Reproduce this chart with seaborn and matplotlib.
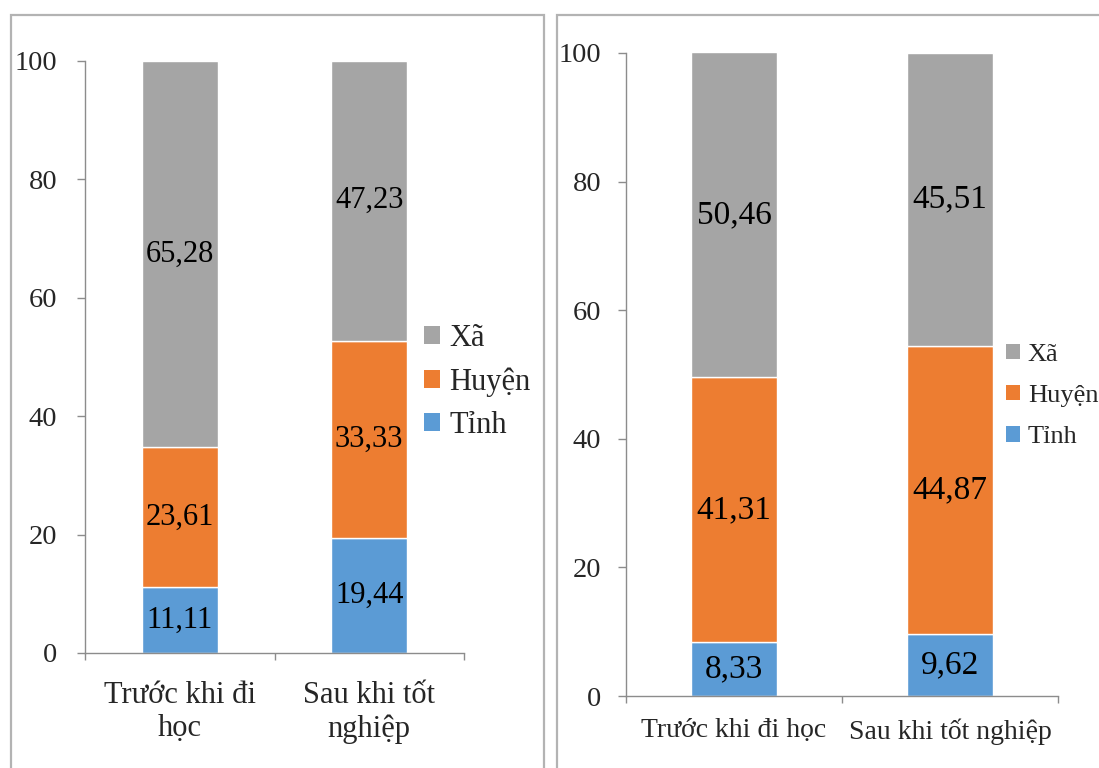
import matplotlib
matplotlib.use("Agg")
import matplotlib.pyplot as plt
from matplotlib.patches import Patch, Rectangle
import seaborn as sns
import numpy as np

# Categories and stacked shares (%) for the two panels
categories_left = ["Trước khi đi\nhọc", "Sau khi tốt\nnghiệp"]
categories_right = ["Trước khi đi học", "Sau khi tốt nghiệp"]
series_names = ["Tỉnh", "Huyện", "Xã"]

tinh_left = [11.11, 19.44]
huyen_left = [23.61, 33.33]
xa_left = [65.28, 47.23]

tinh_right = [8.33, 9.62]
huyen_right = [41.31, 44.87]
xa_right = [50.46, 45.51]

yticks = [0, 20, 40, 60, 80, 100]

colors = {"Tỉnh": "#5B9BD5", "Huyện": "#ED7D31", "Xã": "#A5A5A5"}
axis_gray = "#8c8c8c"
frame_gray = "#b3b3b3"

sns.set_style("white")
plt.rcParams["font.family"] = ["Liberation Serif", "DejaVu Serif"]

W, H = 1099, 768
fig = plt.figure(figsize=(W / 100, H / 100), dpi=100)

# Outer chart frames
fig.patches.append(Rectangle((10.7 / W, -0.05), (544 - 10.7) / W, 1.05 - 15 / H,
                             transform=fig.transFigure, fill=False,
                             edgecolor=frame_gray, linewidth=1.6))
fig.patches.append(Rectangle((557 / W, -0.05), 0.6, 1.05 - 15 / H,
                             transform=fig.transFigure, fill=False,
                             edgecolor=frame_gray, linewidth=1.6))


def draw_panel(ax, cats, layers, tick_fs, xlab_fs, val_fs, ytick_pad, xtick_pad,
               legend_xy, legend_fs, legend_gap, handle_len):
    bottom = np.zeros(len(cats))
    for name, vals in zip(series_names, layers):
        sns.barplot(x=cats, y=vals, bottom=bottom, color=colors[name],
                    saturation=1, width=0.4, ax=ax, order=cats)
        container = ax.containers[-1]
        ax.bar_label(container, labels=[f"{v:.2f}".replace(".", ",") for v in vals],
                     label_type="center", fontsize=val_fs, color="black")
        bottom = bottom + np.array(vals)

    ax.set_ylim(0, 100)
    ax.set_xlim(-0.5, 1.5)
    ax.set_yticks(yticks)
    ax.set_yticklabels([str(t) for t in yticks])
    ax.tick_params(axis="y", length=6, width=1, color=axis_gray, direction="out",
                   labelsize=tick_fs, pad=ytick_pad, left=True)
    ax.tick_params(axis="x", which="major", length=0, labelsize=xlab_fs, pad=xtick_pad)
    ax.set_xticks([-0.5, 0.5, 1.5], minor=True)
    ax.tick_params(axis="x", which="minor", length=5, width=1, color=axis_gray,
                   direction="out", bottom=True)
    for s in ["top", "right"]:
        ax.spines[s].set_visible(False)
    for s in ["left", "bottom"]:
        ax.spines[s].set_color(axis_gray)
        ax.spines[s].set_linewidth(1)
    ax.set_xlabel("")
    ax.set_ylabel("")
    for lab in ax.get_xticklabels():
        lab.set_linespacing(1.2)
        lab.set_multialignment("center")

    handles = [Patch(facecolor=colors[n], edgecolor="none") for n in reversed(series_names)]
    ax.legend(handles, list(reversed(series_names)), loc="center left",
              bbox_to_anchor=legend_xy, bbox_transform=fig.transFigure,
              frameon=False, fontsize=legend_fs, handlelength=handle_len,
              handleheight=handle_len, handletextpad=0.3, labelspacing=legend_gap,
              borderpad=0, borderaxespad=0)


ax1 = fig.add_axes([85 / W, (H - 653) / H, (464 - 85) / W, (653 - 61) / H])
draw_panel(ax1, categories_left, [tinh_left, huyen_left, xa_left],
           tick_fs=20.5, xlab_fs=22, val_fs=22, ytick_pad=14, xtick_pad=20,
           legend_xy=(424 / W, 1 - 382 / H), legend_fs=22, legend_gap=0.46,
           handle_len=0.52)

ax2 = fig.add_axes([626 / W, (H - 696) / H, (1058 - 626) / W, (696 - 53) / H])
draw_panel(ax2, categories_right, [tinh_right, huyen_right, xa_right],
           tick_fs=20.5, xlab_fs=20, val_fs=24, ytick_pad=12, xtick_pad=16,
           legend_xy=(1006 / W, 1 - 396 / H), legend_fs=19, legend_gap=0.72,
           handle_len=0.53)

fig.savefig("out.png", dpi=100)
